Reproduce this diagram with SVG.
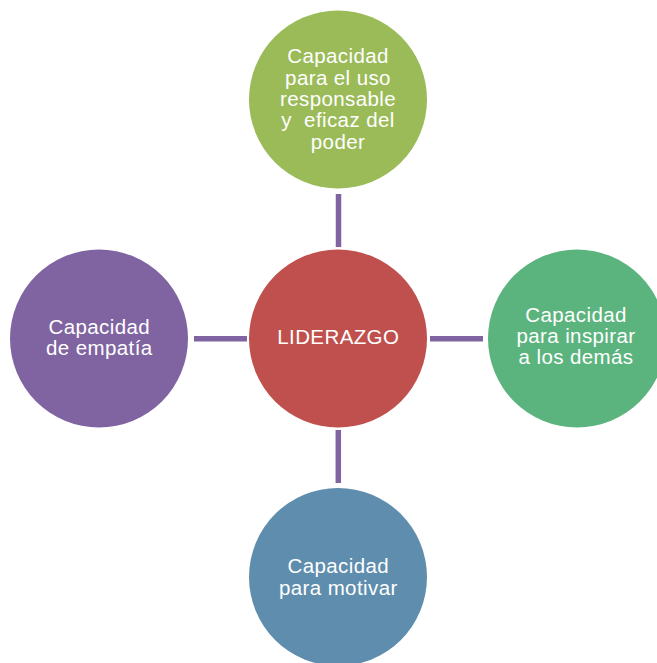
<svg xmlns="http://www.w3.org/2000/svg" width="657" height="663" viewBox="0 0 657 663">
<style>
.lbl{font-family:"Liberation Sans",Arial,sans-serif;font-size:20.5px;letter-spacing:0.4px;fill:#ffffff;text-anchor:middle}
.con{stroke:#8064A2;stroke-width:5.5;fill:none}
</style>
<rect width="657" height="663" fill="#ffffff"/>
<g id="connectors">
<line class="con" x1="338.5" y1="194" x2="338.5" y2="247"/>
<line class="con" x1="430" y1="338.7" x2="483" y2="338.7"/>
<line class="con" x1="194" y1="338.7" x2="247" y2="338.7"/>
<line class="con" x1="338.3" y1="430" x2="338.3" y2="483"/>
</g>
<g id="center">
<circle cx="338" cy="338.5" r="89" fill="#C0504D"/>
<text class="lbl" x="338.3" y="344.3">LIDERAZGO</text>
</g>
<g id="top">
<circle cx="338" cy="99.5" r="89" fill="#9BBB59"/>
<text class="lbl" x="338" y="63.3">Capacidad</text>
<text class="lbl" x="338" y="84.6">para el uso</text>
<text class="lbl" x="338" y="105.9">responsable</text>
<text class="lbl" x="338" y="127.2" xml:space="preserve">y  eficaz del</text>
<text class="lbl" x="338" y="148.5">poder</text>
</g>
<g id="right">
<circle cx="577" cy="338.5" r="89" fill="#5BB47E"/>
<text class="lbl" x="576" y="321.7">Capacidad</text>
<text class="lbl" x="576" y="342.7">para inspirar</text>
<text class="lbl" x="576" y="363.5">a los demás</text>
</g>
<g id="left">
<circle cx="99" cy="338.5" r="89" fill="#8064A2"/>
<text class="lbl" x="99.3" y="334">Capacidad</text>
<text class="lbl" x="99.3" y="355.3">de empatía</text>
</g>
<g id="bottom">
<circle cx="338" cy="577" r="89" fill="#5F8DAD"/>
<text class="lbl" x="338.3" y="573.3">Capacidad</text>
<text class="lbl" x="338.3" y="595">para motivar</text>
</g>
</svg>
